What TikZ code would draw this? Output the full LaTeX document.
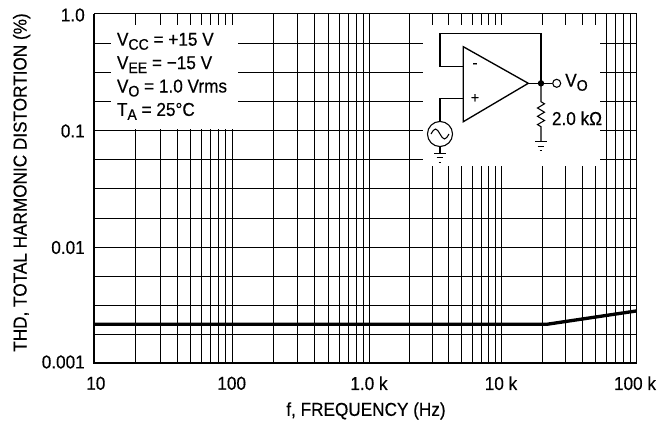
\documentclass[tikz,border=0pt]{standalone}
\usepackage{fontspec}
\setmainfont{Liberation Sans}[FakeStretch=0.92,FakeBold=0.4]
\usepackage{graphicx}

\newcommand{\lo}[1]{\raisebox{-3pt}{\fontsize{11.5}{12}\selectfont #1}}

\begin{document}
\begin{tikzpicture}[x=0.75pt,y=-0.75pt,
    grid/.style={black, line width=1.1pt},
    axis/.style={black, line width=1.7pt},
    wire/.style={black, line width=0.8pt},
    lbl/.style={inner sep=0pt, font=\fontsize{14}{17}\selectfont}]

      \useasboundingbox (0,0) rectangle (668,430);

      % vertical grid lines, decade by decade
      \foreach \a/\b in {94/231.7, 231.7/369, 369/501, 501/636}{
        \foreach \k in {2,...,10}
          \draw[grid] ({round(\a+(\b-\a)*log10(\k))+0.5},13.5) -- ({round(\a+(\b-\a)*log10(\k))+0.5},363.3);
      }
      % horizontal grid lines, four to a decade
      \foreach \i in {1,...,11}
        \draw[grid] (94,{round(13.5+29.15*\i)+0.5}) -- (636,{round(13.5+29.15*\i)+0.5});

      \fill[white] (110.7,25) rectangle (238.3,129);
      \fill[white] (423,25) rectangle (600,166);

      \draw[grid] (94,13.5) -- (636.5,13.5) -- (636.5,363.3);
      \draw[axis] (94,13.5) -- (94,363.3) -- (636.5,363.3);

      \coordinate (c0) at (94,324.3);
      \coordinate (c1) at (546.7,324.3);
      \coordinate (c2) at (636,311);
      \draw[black, line width=2.5pt] (c0) -- (c1) -- (c2);

      \node[lbl, anchor=east] (y0) at (85,15) {1.0};
      \node[lbl, anchor=east] (y1) at (85,131) {0.1};
      \node[lbl, anchor=east] (y2) at (85,247.5) {0.01};
      \node[lbl, anchor=east] (y3) at (85,362) {0.001};

      \node[lbl] (x0) at (95.8,383.3) {10};
      \node[lbl] (x1) at (231.7,383.3) {100};
      \node[lbl] (x2) at (369,383.3) {1.0 k};
      \node[lbl] (x3) at (501,383.3) {10 k};
      \node[lbl] (x4) at (635,383.3) {100 k};

      \node[lbl] (xt) at (366,411) {f, FREQUENCY (Hz)};
      \node[lbl, rotate=90] (yt) at (21.7,182.5) {THD, TOTAL HARMONIC DISTORTION (\%)};

      \node[lbl, anchor=base west] (n1) at (116.7,45.7) {V\lo{CC} = +15 V};
      \node[lbl, anchor=base west] (n2) at (116.7,69.1) {V\lo{EE} = −15 V};
      \node[lbl, anchor=base west] (n3) at (116.7,92.5) {V\lo{O} = 1.0 Vrms};
      \node[lbl, anchor=base west] (n4) at (116.7,115.9) {T\lo{A} = 25°C};

      % inset circuit
      \coordinate (ninv) at (463.3,66.7);
      \coordinate (pinv) at (463.3,98.3);
      \coordinate (apex) at (528.3,83.3);
      \coordinate (out) at (541,83.3);
      \draw[wire, line width=1pt] (463.3,46.7) -- (apex) -- (463.3,121.7) -- cycle;
      \node[lbl, font=\fontsize{13}{13}\selectfont] (mi) at (475,65.7) {-};
      \node[lbl, font=\fontsize{11}{11}\selectfont] (pl) at (475,98.3) {+};

      \draw[wire] (ninv) -- (440,66.7) -- (440,33.3) -- (541,33.3) -- (out);
      \node[draw, circle, wire, inner sep=0pt, minimum size=6pt] (vo) at (556.7,83.3) {};
      \draw[wire] (apex) -- (out) -- (vo);
      \fill (out) circle[radius=3.2];
      \node[lbl, anchor=base west] (vol) at (565,86.7) {V\lo{O}};

      \node[draw, circle, wire, inner sep=0pt, minimum size=18.8pt] (src) at (440,134) {};
      \draw[wire] (pinv) -- (440,98.3) -- (src.north);
      \draw[wire] (431,134) sin (435.5,129) cos (440,134) sin (444.5,139) cos (449,134);
      \coordinate (g1) at (440,153.3);
      \draw[wire] (src.south) -- (g1);

      \coordinate (g2) at (541,141.7);
      \draw[wire] (out) -- (541,101.7) -- (544.5,103.8) -- (537.5,108) -- (544.5,112.2)
        -- (537.5,116.3) -- (544.5,120.5) -- (537.5,124.6) -- (541,126.7) -- (g2);
      \node[lbl, anchor=base west] (rl) at (551.7,125) {2.0 kΩ};

      \foreach \g in {g1,g2}{
        \draw[wire] ([xshift=-4.4pt]\g) -- ([xshift=4.4pt]\g);
        \draw[wire] ([xshift=-2.6pt,yshift=-3.3pt]\g) -- ([xshift=2.6pt,yshift=-3.3pt]\g);
        \draw[wire] ([xshift=-1.1pt,yshift=-6.6pt]\g) -- ([xshift=1.1pt,yshift=-6.6pt]\g);
      }

    \end{tikzpicture}
\end{document}
